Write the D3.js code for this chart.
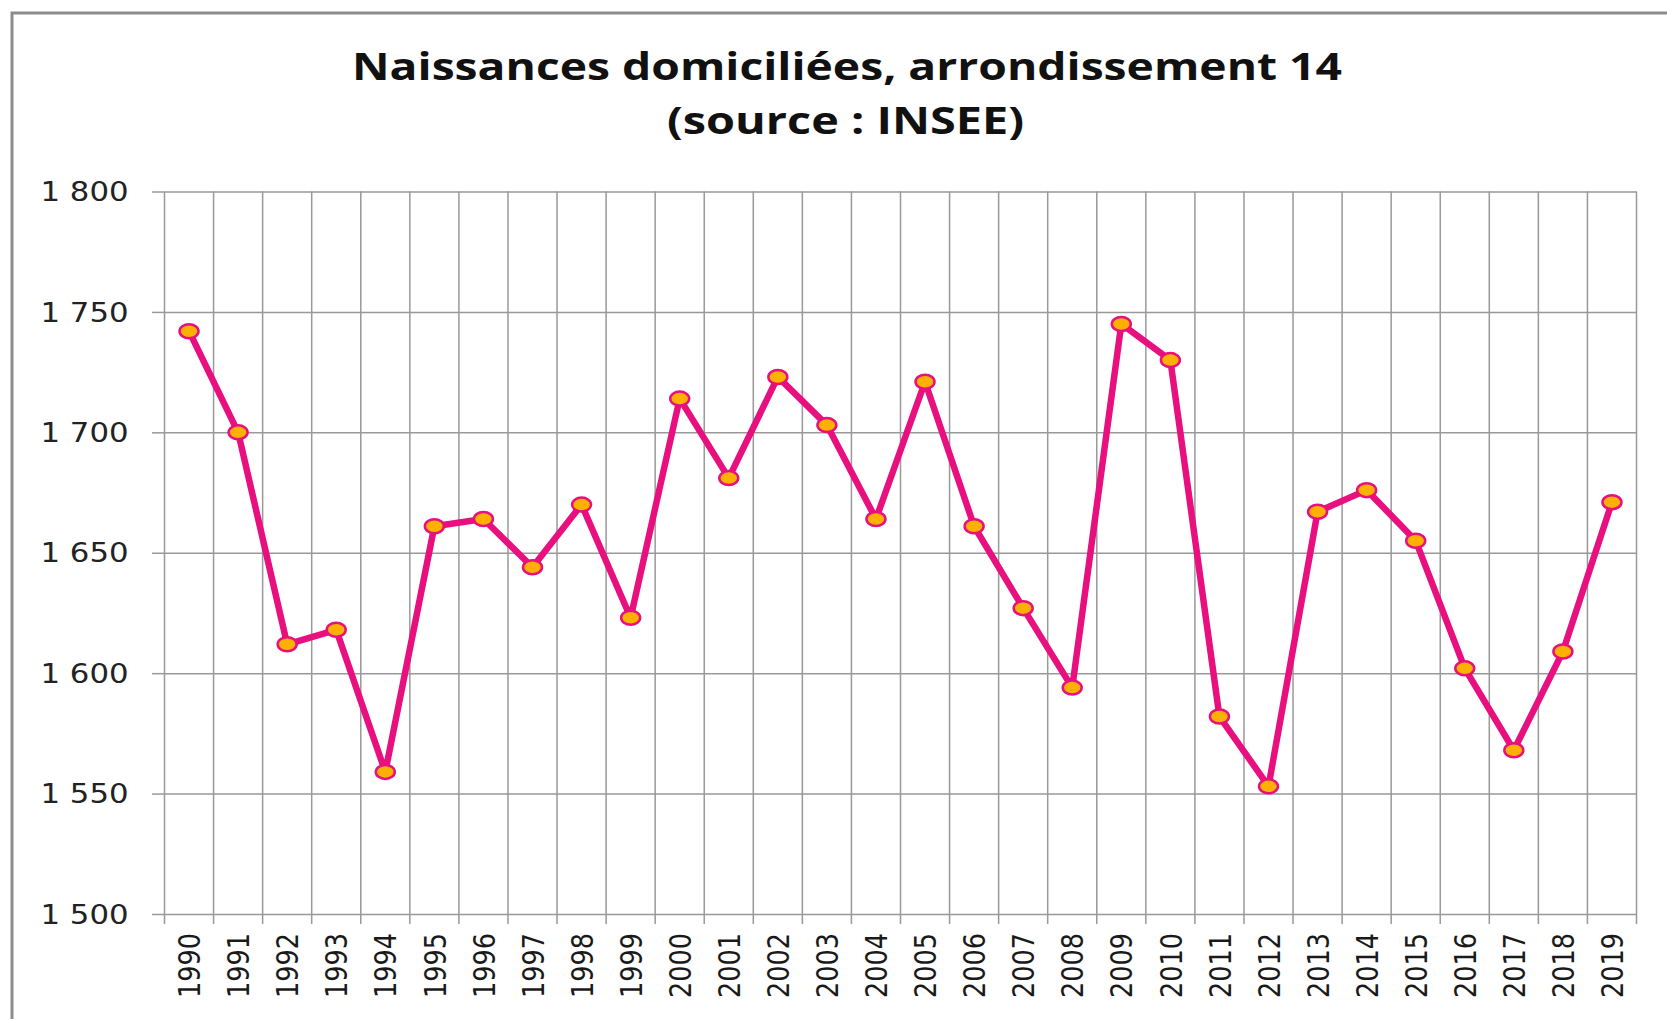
<!DOCTYPE html>
<html>
<head>
<meta charset="utf-8">
<script src="https://cdn.jsdelivr.net/npm/d3@7"></script>
<style>
  html, body { margin: 0; padding: 0; background: #fff; }
  svg { display: block; }
</style>
</head>
<body>
<div id="chart"></div>
<script>
(function() {
    // data
    var YEARS = ['1990', '1991', '1992', '1993', '1994', '1995', '1996', '1997', '1998', '1999',
                 '2000', '2001', '2002', '2003', '2004', '2005', '2006', '2007', '2008', '2009',
                 '2010', '2011', '2012', '2013', '2014', '2015', '2016', '2017', '2018', '2019'];
    var BIRTHS = [1742, 1700, 1612, 1618, 1559, 1661, 1664, 1644, 1670, 1623,
                  1714, 1681, 1723, 1703, 1664, 1721, 1661, 1627, 1594, 1745,
                  1730, 1582, 1553, 1667, 1676, 1655, 1602, 1568, 1609, 1671];
    var Y_TICKS = [1500, 1550, 1600, 1650, 1700, 1750, 1800];
    var TITLE_LINES = ['Naissances domiciliées, arrondissement 14', '(source : INSEE)'];

    var W = 1667, H = 1019;
    var LINE = '#e8107e';
    var DOT = '#ffb000';
    var GRID = '#999999';
    var FRAME = '#8c8c8c';

    var fmt = function(v) { return d3.format(',')(v).replace(',', ' '); };

    var svg = d3.select('#chart').append('svg')
        .attr('width', W)
        .attr('height', H);

    // outer chart frame (right/bottom edges fall outside the picture)
    svg.append('rect')
        .attr('x', 12).attr('y', 13)
        .attr('width', W + 20).attr('height', H + 20)
        .attr('fill', '#fff')
        .attr('stroke', FRAME)
        .attr('stroke-width', 3);

    var x = d3.scaleBand().domain(YEARS).range([164.5, 1636.5]).padding(0);
    var y = d3.scaleLinear().domain([1500, 1800]).range([914, 191.5]);

    // title, stretched like the original picture
    var title = svg.append('g')
        .attr('font-family', '"Open Sans", sans-serif')
        .attr('font-weight', 700)
        .attr('font-size', 38)
        .attr('fill', '#111');
    title.append('text')
        .attr('x', 352).attr('y', 80)
        .attr('textLength', 990)
        .attr('lengthAdjust', 'spacingAndGlyphs')
        .text(TITLE_LINES[0]);
    title.append('text')
        .attr('x', 667).attr('y', 134)
        .attr('textLength', 357)
        .attr('lengthAdjust', 'spacingAndGlyphs')
        .text(TITLE_LINES[1]);

    // horizontal gridlines + y ticks
    var gy = svg.append('g')
        .attr('transform', 'translate(164.5,0)')
        .call(d3.axisLeft(y).tickValues(Y_TICKS)
            .tickSize(12.5)
            .tickFormat(fmt));
    gy.select('.domain').remove();
    gy.selectAll('.tick line').attr('stroke', GRID).attr('stroke-width', 1.5);
    gy.selectAll('.tick').append('line')
        .attr('x1', 0).attr('x2', 1636.5 - 164.5)
        .attr('stroke', GRID).attr('stroke-width', 1.5);
    gy.selectAll('.tick text')
        .attr('x', -36)
        .attr('dy', '0.34em')
        .attr('font-family', '"DejaVu Sans", sans-serif')
        .attr('font-size', 27)
        .attr('fill', '#222')
        .attr('textLength', 88)
        .attr('lengthAdjust', 'spacingAndGlyphs');

    // vertical gridlines at category boundaries
    var bounds = YEARS.map(function(d) { return x(d); }).concat([x.range()[1]]);
    svg.append('g').selectAll('line').data(bounds).join('line')
        .attr('x1', function(d) { return d; })
        .attr('x2', function(d) { return d; })
        .attr('y1', y(1800))
        .attr('y2', y(1500) + 10)
        .attr('stroke', GRID)
        .attr('stroke-width', 1.5);

    // x labels, rotated
    svg.append('g').selectAll('text').data(YEARS).join('text')
        .attr('transform', function(d) {
            return 'translate(' + (x(d) + x.bandwidth() / 2) + ',933) rotate(-90)';
        })
        .attr('text-anchor', 'end')
        .attr('dy', '0.36em')
        .attr('font-family', '"DejaVu Sans", sans-serif')
        .attr('font-size', 31)
        .attr('fill', '#1a1a1a')
        .attr('textLength', 65)
        .attr('lengthAdjust', 'spacingAndGlyphs')
        .text(function(d) { return d; });

    var pts = YEARS.map(function(d, i) { return [x(d) + x.bandwidth() / 2, y(BIRTHS[i])]; });

    svg.append('path')
        .datum(pts)
        .attr('d', d3.line())
        .attr('fill', 'none')
        .attr('stroke', LINE)
        .attr('stroke-width', 6.5)
        .attr('stroke-linejoin', 'round');

    svg.append('g').selectAll('ellipse').data(pts).join('ellipse')
        .attr('cx', function(d) { return d[0]; })
        .attr('cy', function(d) { return d[1]; })
        .attr('rx', 9.5)
        .attr('ry', 7)
        .attr('fill', DOT)
        .attr('stroke', LINE)
        .attr('stroke-width', 2.5);
})();
</script>
</body>
</html>
